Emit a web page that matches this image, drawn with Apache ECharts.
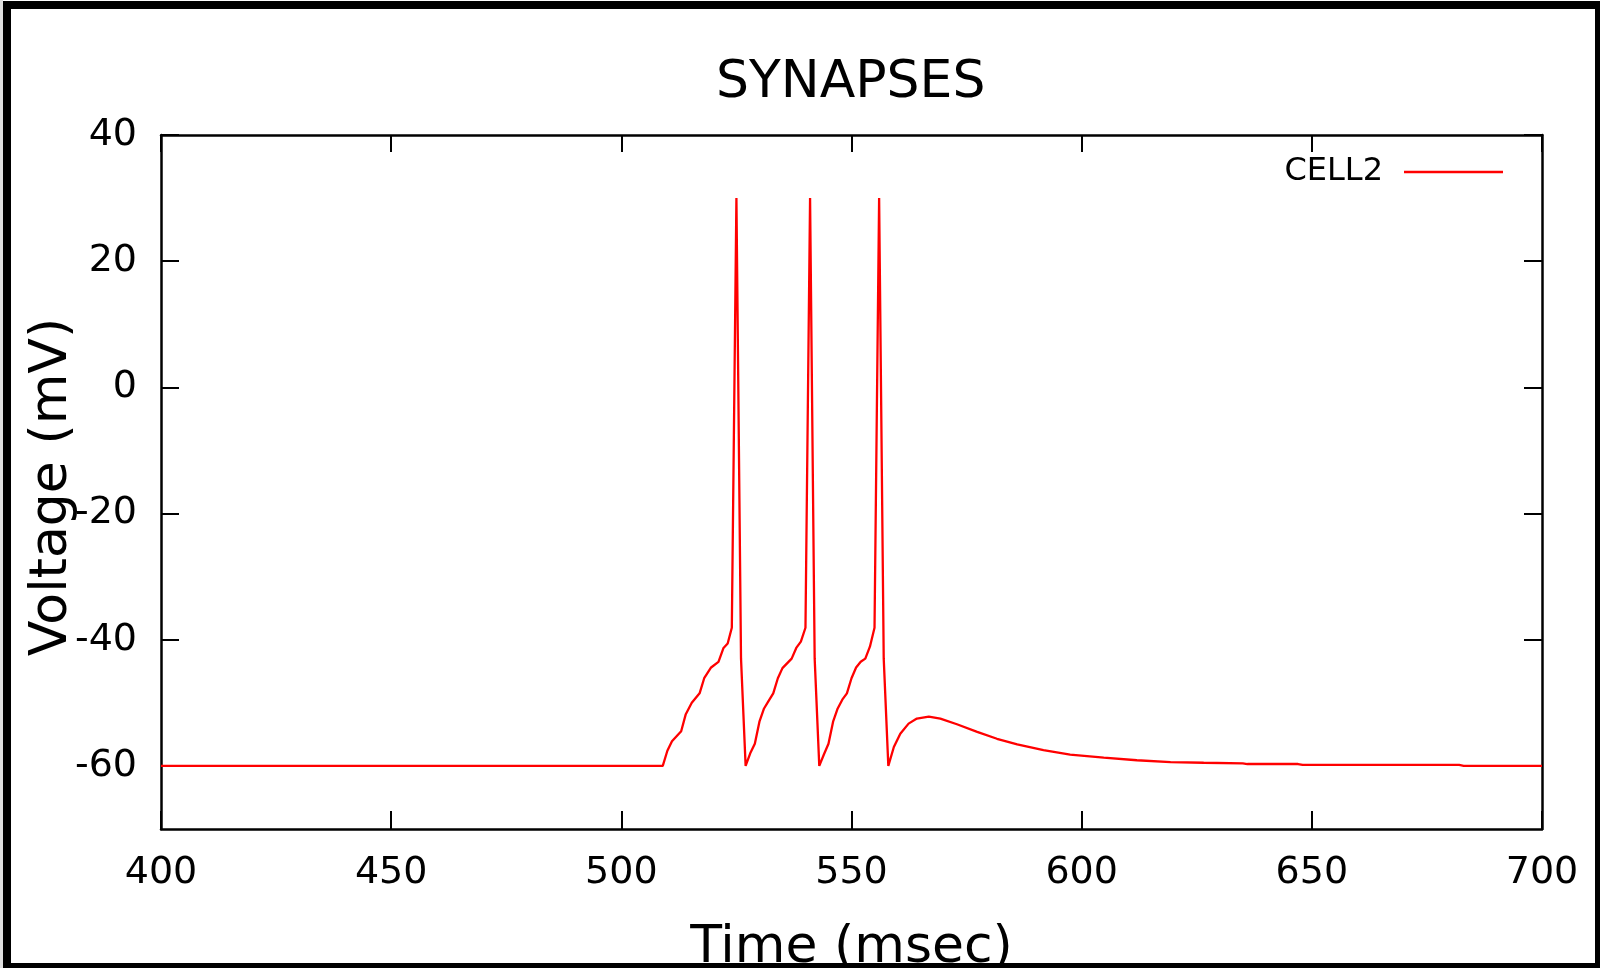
<!DOCTYPE html>
<html>
<head>
<meta charset="utf-8">
<script src="https://cdn.jsdelivr.net/npm/echarts@6/dist/echarts.min.js"></script>
<style>
html,body{margin:0;padding:0;background:#fff;}
#chart{width:1605px;height:968px;}
</style>
</head>
<body>
<div id="chart"></div>
<script>
// ---- data ----
const seriesName = 'CELL2';
const time_ms = [
  400, 509, 510, 511, 513, 514, 515.3, 517, 518, 519.5, 521.1, 522.2, 523.1, 524, 525, 526, 527,
  528, 529, 530, 531, 532, 533, 534, 535, 537, 538, 539, 540, 541, 542, 543,
  544, 545, 546, 547, 548, 549, 550, 551, 552, 553, 554, 555, 556, 557, 558,
  559.2, 560.6, 562.4, 564.2, 566.8, 569.3, 572.9, 577.3, 581.6, 586, 591.7, 597.5,
  604.8, 612, 619.3, 626.5, 635, 636, 647, 648, 682, 683, 700
];
const voltage_mV = [
  -60, -60, -57.6, -56.1, -54.5, -51.8, -50.0, -48.5, -46.1, -44.4, -43.5, -41.3, -40.6, -38.1, 30, -43, -60,
  -58, -56.5, -53, -50.9, -49.7, -48.5, -46.1, -44.5, -43, -41.3, -40.3, -38.1, 30, -43, -60,
  -58.2, -56.5, -53, -50.9, -49.5, -48.5, -46.1, -44.4, -43.5, -43, -41.1, -38.1, 30, -43, -60,
  -57.0, -54.9, -53.3, -52.5, -52.2, -52.5, -53.4, -54.6, -55.7, -56.6, -57.5, -58.2,
  -58.7, -59.1, -59.4, -59.5, -59.6, -59.7, -59.7, -59.85, -59.85, -60, -60
];
const xTicks = [400, 450, 500, 550, 600, 650, 700];
const yTicks = [-60, -40, -20, 0, 20, 40];
const xRange = [400, 700];
const yRange = [-70, 40];

const FONT = 'DejaVu Sans';
const chart = echarts.init(document.getElementById('chart'), null, {renderer: 'canvas'});

const points = time_ms.map((t, i) => [t, voltage_mV[i]]);

const axisLine = {show: true, onZero: false, lineStyle: {color: '#000', width: 2.5}};
const tickStyle = {lineStyle: {color: '#000', width: 2}};

chart.setOption({
  backgroundColor: '#fff',
  animation: false,
  title: {
    text: 'SYNAPSES',
    left: 716, top: 57, padding: 0,
    textStyle: {fontFamily: FONT, fontSize: 52, fontWeight: 'normal', color: '#000'}
  },
  legend: {
    right: 102, top: 156, padding: 0,
    align: 'right',
    itemWidth: 99, itemHeight: 2.5,
    icon: 'rect',
    itemStyle: {color: '#ff0000'},
    textStyle: {fontFamily: FONT, fontSize: 32, color: '#000', padding: [0, 16, 0, 0]},
    data: [seriesName]
  },
  grid: {left: 161, right: 63, top: 135, bottom: 139, containLabel: false, outerBoundsMode: 'none'},
  xAxis: [{
    type: 'value', min: xRange[0], max: xRange[1], position: 'bottom',
    name: 'Time (msec)', nameLocation: 'middle', nameGap: 93, nameMoveOverlap: false,
    nameTextStyle: {fontFamily: FONT, fontSize: 52, color: '#000'},
    axisLine: axisLine,
    axisTick: Object.assign({show: true, inside: true, length: 18, customValues: xTicks}, tickStyle),
    axisLabel: {show: true, customValues: xTicks, margin: 25, fontFamily: FONT, fontSize: 38, color: '#000'},
    splitLine: {show: false}
  }, {
    type: 'value', min: xRange[0], max: xRange[1], position: 'top',
    axisLine: axisLine,
    axisTick: Object.assign({show: true, inside: true, length: 17, customValues: xTicks}, tickStyle),
    axisLabel: {show: false},
    splitLine: {show: false}
  }],
  yAxis: [{
    type: 'value', min: yRange[0], max: yRange[1], position: 'left',
    name: 'Voltage (mV)', nameLocation: 'middle', nameGap: 83, nameRotate: 90, nameMoveOverlap: false,
    nameTextStyle: {fontFamily: FONT, fontSize: 52, color: '#000', padding: [0, 10, 0, 0]},
    axisLine: axisLine,
    axisTick: Object.assign({show: true, inside: true, length: 18, customValues: yTicks}, tickStyle),
    axisLabel: {show: true, customValues: yTicks, margin: 24, fontFamily: FONT, fontSize: 38, color: '#000', padding: [6, 0, 0, 0]},
    splitLine: {show: false}
  }, {
    type: 'value', min: yRange[0], max: yRange[1], position: 'right',
    axisLine: axisLine,
    axisTick: Object.assign({show: true, inside: true, length: 18, customValues: yTicks}, tickStyle),
    axisLabel: {show: false},
    splitLine: {show: false}
  }],
  series: [{
    name: seriesName,
    type: 'line',
    xAxisIndex: 0, yAxisIndex: 0,
    data: points,
    symbol: 'none',
    showSymbol: false,
    smooth: false,
    clip: true,
    lineStyle: {color: '#ff0000', width: 2.3},
    itemStyle: {color: '#ff0000'}
  }],
  graphic: [
    {type: 'rect', z: 100, shape: {x: 0, y: 0, width: 3, height: 968}, style: {fill: '#e0e0e0'}},
    {type: 'rect', z: 100, shape: {x: 3, y: 1, width: 8, height: 967}, style: {fill: '#000'}},
    {type: 'rect', z: 100, shape: {x: 3, y: 1, width: 1597, height: 8}, style: {fill: '#000'}},
    {type: 'rect', z: 100, shape: {x: 1595, y: 1, width: 5, height: 967}, style: {fill: '#000'}},
    {type: 'rect', z: 100, shape: {x: 3, y: 963, width: 1597, height: 5}, style: {fill: '#000'}}
  ]
});
</script>
</body>
</html>
